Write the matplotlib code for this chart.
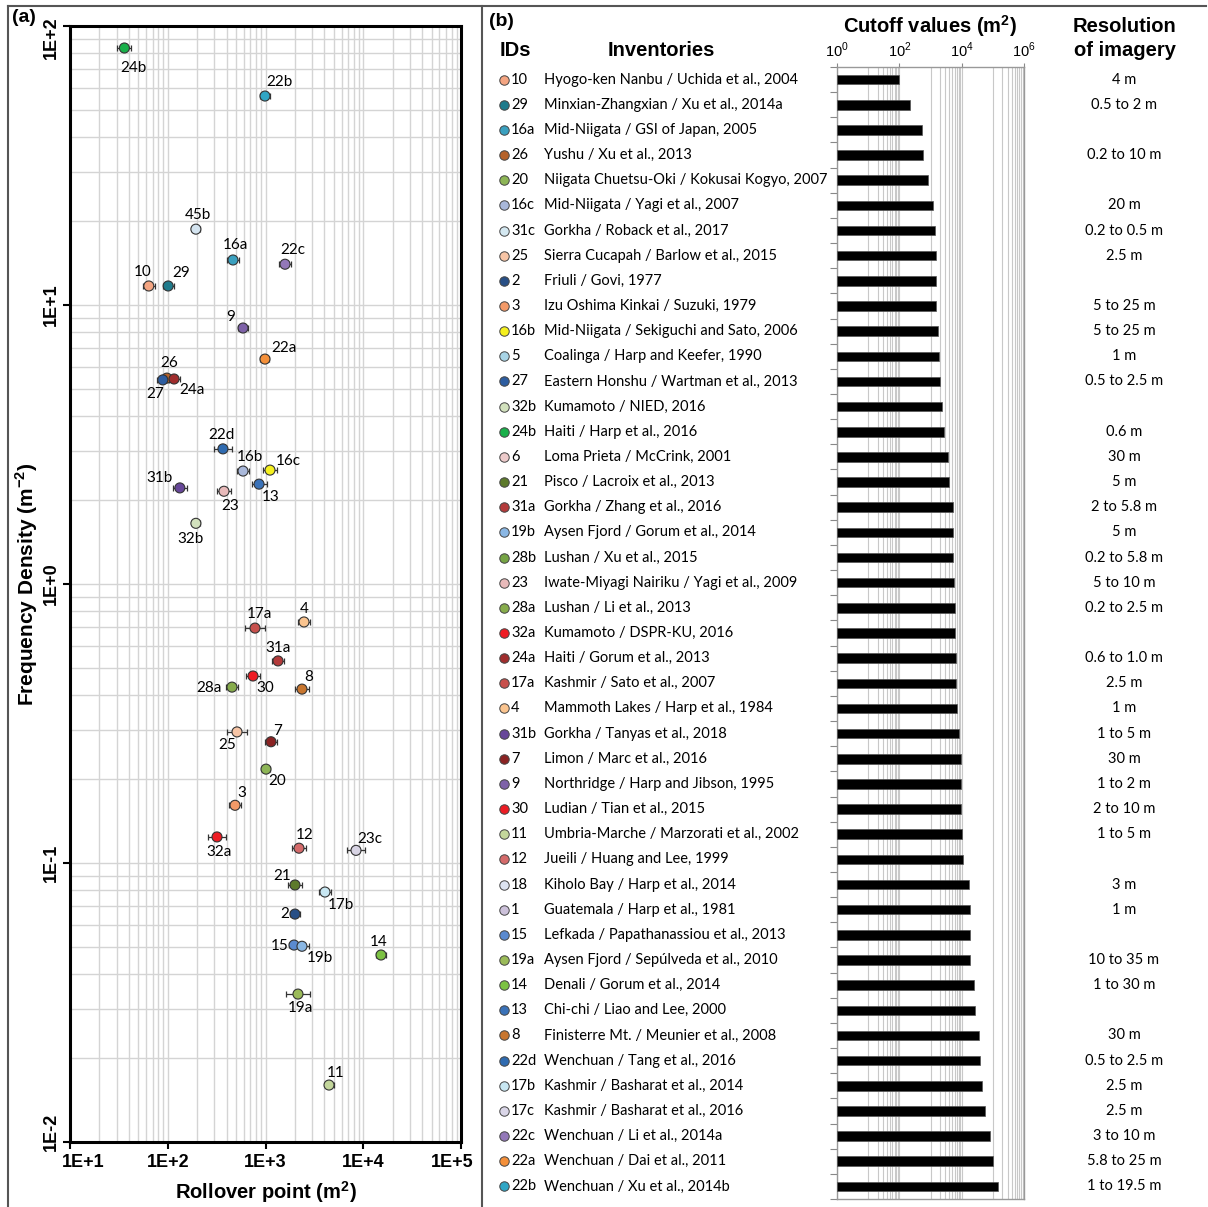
import numpy as np
import matplotlib
matplotlib.use("Agg")
import matplotlib.pyplot as plt
from matplotlib.lines import Line2D
from matplotlib.ticker import FixedLocator, FuncFormatter, NullFormatter
from matplotlib.transforms import blended_transform_factory

plt.rcParams['mathtext.fontset'] = 'custom'
plt.rcParams['mathtext.rm'] = 'Liberation Sans'
plt.rcParams['mathtext.bf'] = 'Liberation Sans:bold'

# ---------------- panel (a) data: rollover point vs frequency density
roll_ids = ['24b', '22b', '45b', '16a', '22c', '10', '29', '9', '22a', '26', '27', '24a',
            '22d', '16b', '16c', '13', '31b', '23', '32b', '17a', '4', '31a', '30', '28a',
            '8', '25', '7', '20', '3', '32a', '12', '23c', '21', '17b', '2', '15', '19b',
            '14', '19a', '11']
roll_x = [36, 988, 194, 465, 1584, 64, 101, 589, 988, 98, 89, 116,
          367, 589, 1112, 859, 133, 376, 194, 781, 2477, 1343, 745, 454,
          2362, 511, 1138, 1012, 488, 319, 2201, 8430, 2003, 4060, 2003, 1958, 2362,
          15200, 2149, 4464]
roll_y = [83.4, 56.1, 18.7, 14.5, 14.0, 11.7, 11.7, 8.27, 6.40, 5.47, 5.39, 5.43,
          3.05, 2.54, 2.56, 2.28, 2.21, 2.15, 1.65, 0.695, 0.731, 0.530, 0.468, 0.427,
          0.420, 0.295, 0.272, 0.217, 0.161, 0.124, 0.113, 0.111, 0.0834, 0.0787, 0.0656,
          0.0508, 0.0503, 0.0468, 0.0339, 0.016]
# half width of error bar, in decades
roll_err = [0.072, 0.055, 0.04, 0.063, 0.063, 0.06, 0.055, 0.053, 0.046, 0.06, 0.06, 0.06,
            0.09, 0.058, 0.07, 0.077, 0.068, 0.072, 0.04, 0.1, 0.063, 0.063, 0.068, 0.065,
            0.07, 0.105, 0.06, 0.04, 0.065, 0.092, 0.068, 0.097, 0.07, 0.066, 0.05, 0.05,
            0.07, 0.05, 0.125, 0.046]
roll_colors = ['#19B04A', '#30A6C5', '#D4E4F0', '#3AA0BF', '#9378B8', '#F4A582', '#1F7B8C',
               '#7E62A8', '#F4903A', '#B5622A', '#2D5DA0', '#A02D2D', '#2F6BB0', '#A9B8DA',
               '#F5F01E', '#3A72B8', '#674799', '#E8BABA', '#D2E1BD', '#C7504C', '#FAC48F',
               '#B33A3A', '#EE1C24', '#87AC4C', '#C8762F', '#F7C5A6', '#8A2222', '#8DB556',
               '#F39A68', '#EE1C24', '#D46A6A', '#D8D4E4', '#5D7A2B', '#C8E7F2', '#284F86',
               '#5A8AD0', '#8AB7E4', '#7CC243', '#9BBB59', '#C3D69B']
# label offsets from the point (pixels, right / down)
label_off = [(9, 20), (14, -14), (2, -14), (2, -15), (8, -14), (-6, -14), (13, -13),
             (-12, -11), (19, -11), (2, -15), (-8, 14), (18, 11), (-1, -14), (7, -14),
             (18, -9), (12, 13), (-20, -10), (6, 15), (-5, 16), (4, -14), (0, -13),
             (0, -13), (12, 12), (-23, 1), (7, -12), (-10, 13), (7, -11), (11, 12),
             (7, -12), (2, 15), (6, -13), (14, -11), (-13, -9), (16, 13), (-10, 0),
             (-14, 1), (18, 12), (-2, -13), (2, 14), (7, -12)]

# ---------------- panel (b) data: inventories table
inv_ids = ['10', '29', '16a', '26', '20', '16c', '31c', '25', '2', '3', '16b', '5', '27',
           '32b', '24b', '6', '21', '31a', '19b', '28b', '23', '28a', '32a', '24a', '17a',
           '4', '31b', '7', '9', '30', '11', '12', '18', '1', '15', '19a', '14', '13', '8',
           '22d', '17b', '17c', '22c', '22a', '22b']
inv_names = ['Hyogo-ken Nanbu / Uchida et al., 2004', 'Minxian-Zhangxian / Xu et al., 2014a',
             'Mid-Niigata / GSI of Japan, 2005', 'Yushu / Xu et al., 2013',
             'Niigata Chuetsu-Oki / Kokusai Kogyo, 2007', 'Mid-Niigata / Yagi et al., 2007',
             'Gorkha / Roback et al., 2017', 'Sierra Cucapah / Barlow et al., 2015',
             'Friuli / Govi, 1977', 'Izu Oshima Kinkai / Suzuki, 1979',
             'Mid-Niigata / Sekiguchi and Sato, 2006', 'Coalinga / Harp and Keefer, 1990',
             'Eastern Honshu / Wartman et al., 2013', 'Kumamoto / NIED, 2016',
             'Haiti / Harp et al., 2016', 'Loma Prieta / McCrink, 2001',
             'Pisco / Lacroix et al., 2013', 'Gorkha / Zhang et al., 2016',
             'Aysen Fjord / Gorum et al., 2014', 'Lushan / Xu et al., 2015',
             'Iwate-Miyagi Nairiku / Yagi et al., 2009', 'Lushan / Li et al., 2013',
             'Kumamoto / DSPR-KU, 2016', 'Haiti / Gorum et al., 2013',
             'Kashmir / Sato et al., 2007', 'Mammoth Lakes / Harp et al., 1984',
             'Gorkha / Tanyas et al., 2018', 'Limon / Marc et al., 2016',
             'Northridge / Harp and Jibson, 1995', 'Ludian / Tian et al., 2015',
             'Umbria-Marche / Marzorati et al., 2002', 'Jueili / Huang and Lee, 1999',
             'Kiholo Bay / Harp et al., 2014', 'Guatemala / Harp et al., 1981',
             'Lefkada / Papathanassiou et al., 2013', 'Aysen Fjord / Sepúlveda et al., 2010',
             'Denali / Gorum et al., 2014', 'Chi-chi / Liao and Lee, 2000',
             'Finisterre Mt. / Meunier et al., 2008', 'Wenchuan / Tang et al., 2016',
             'Kashmir / Basharat et al., 2014', 'Kashmir / Basharat et al., 2016',
             'Wenchuan / Li et al., 2014a', 'Wenchuan / Dai et al., 2011',
             'Wenchuan / Xu et al., 2014b']
inv_colors = ['#F4A582', '#1F7B8C', '#3AA0BF', '#B5622A', '#8DB556', '#A9B8DA', '#D4E8F1',
              '#F7C5A6', '#284F86', '#F39A68', '#F5F01E', '#A8D4E6', '#2D5DA0', '#D2E1BD',
              '#19B04A', '#ECCACA', '#5D7A2B', '#B33A3A', '#8AB7E4', '#76A445', '#E8BABA',
              '#87AC4C', '#EE1C24', '#A02D2D', '#C7504C', '#FAC48F', '#674799', '#8A2222',
              '#7E62A8', '#EC1C24', '#C3D69B', '#D46A6A', '#DDE4F1', '#CCC1DA', '#5A8AD0',
              '#9BBB59', '#7CC243', '#3A72B8', '#C8762F', '#2F6BB0', '#C8E7F2', '#DAD6E8',
              '#9378B8', '#F4903A', '#30A6C5']
cutoff = [100, 225, 520, 590, 830, 1170, 1350, 1490, 1490, 1510, 1690, 1860, 1960,
          2390, 2700, 3700, 4070, 5250, 5370, 5370, 5750, 5890, 6310, 6460, 6650, 6950,
          8510, 9370, 9370, 9500, 10350, 10900, 17300, 19100, 19100, 19100, 24400, 26200,
          35300, 39800, 43900, 57500, 79000, 98600, 142000]
resolution = ['4 m', '0.5 to 2 m', '', '0.2 to 10 m', '', '20 m', '0.2 to 0.5 m', '2.5 m',
              '', '5 to 25 m', '5 to 25 m', '1 m', '0.5 to 2.5 m', '', '0.6 m', '30 m',
              '5 m', '2 to 5.8 m', '5 m', '0.2 to 5.8 m', '5 to 10 m', '0.2 to 2.5 m', '',
              '0.6 to 1.0 m', '2.5 m', '1 m', '1 to 5 m', '30 m', '1 to 2 m', '2 to 10 m',
              '1 to 5 m', '', '3 m', '1 m', '', '10 to 35 m', '1 to 30 m', '', '30 m',
              '0.5 to 2.5 m', '2.5 m', '2.5 m', '3 to 10 m', '5.8 to 25 m', '1 to 19.5 m']

W, H = 1208, 1207


def fx(px):
    return px / W


def fy(py):
    return 1 - py / H


BOLD = 'Liberation Sans'
REG = 'Lato'

fig = plt.figure(figsize=(W / 100, H / 100), dpi=100)

# ---------------- panel (a)
ax = fig.add_axes([fx(70), fy(1142), fx(461) - fx(70), fy(26) - fy(1142)])
ax.set_xscale('log')
ax.set_yscale('log')
ax.set_xlim(10, 1e5)
ax.set_ylim(1e-2, 1e2)
ax.grid(True, which='both', color='#d4d4d4', lw=1.0)
ax.set_axisbelow(True)
for s in ax.spines.values():
    s.set_linewidth(2.2)
ax.tick_params(which='major', length=5, width=1.5, direction='out')
ax.tick_params(which='minor', length=0)

xt = [1e1, 1e2, 1e3, 1e4, 1e5]
yt = [1e-2, 1e-1, 1e0, 1e1, 1e2]
ax.xaxis.set_major_locator(FixedLocator(xt))
ax.yaxis.set_major_locator(FixedLocator(yt))


def sci(v):
    return "1E%+d" % int(round(np.log10(v)))


# end labels are drawn separately, shifted inwards as in the original
ax.xaxis.set_major_formatter(FuncFormatter(lambda v, _: '' if v in (xt[0], xt[-1]) else sci(v)))
ax.yaxis.set_major_formatter(FuncFormatter(lambda v, _: '' if v in (yt[0], yt[-1]) else sci(v)))
ax.tick_params(axis='x', pad=3.5)
ax.tick_params(axis='y', pad=2)
for lab in ax.get_xticklabels():
    lab.set_fontfamily(BOLD)
    lab.set_fontweight('bold')
    lab.set_fontsize(13)
for lab in ax.get_yticklabels():
    lab.set_fontfamily(BOLD)
    lab.set_fontweight('bold')
    lab.set_fontsize(13)
    lab.set_rotation(90)
    lab.set_va('center')

tick_kw = dict(textcoords='offset points', fontfamily=BOLD, fontweight='bold', fontsize=13,
               annotation_clip=False)
ax.annotate(sci(xt[0]), (xt[0], 0), xycoords=('data', 'axes fraction'), xytext=(9.4, -8.5),
            ha='center', va='top', **tick_kw)
ax.annotate(sci(xt[-1]), (xt[-1], 0), xycoords=('data', 'axes fraction'), xytext=(-6.5, -8.5),
            ha='center', va='top', **tick_kw)
ax.annotate(sci(yt[0]), (0, yt[0]), xycoords=('axes fraction', 'data'), xytext=(-7, 7.2),
            ha='right', va='center', rotation=90, **tick_kw)
ax.annotate(sci(yt[-1]), (0, yt[-1]), xycoords=('axes fraction', 'data'), xytext=(-7, -8.6),
            ha='right', va='center', rotation=90, **tick_kw)

ax.set_xlabel(r"Rollover point (m$^{\mathbf{2}}$)", fontfamily=BOLD, fontweight='bold',
              fontsize=14.5, labelpad=6)
ax.set_ylabel(r"Frequency Density (m$^{\mathbf{-2}}$)", fontfamily=BOLD, fontweight='bold',
              fontsize=15, labelpad=2)

xs = np.array(roll_x, dtype=float)
ys = np.array(roll_y, dtype=float)
d = np.array(roll_err)
xerr = [xs - xs / 10 ** d, xs * 10 ** d - xs]
ax.errorbar(xs, ys, xerr=xerr, fmt='none', ecolor='#333333', elinewidth=0.9,
            capsize=2.5, capthick=0.9, zorder=3)
ax.scatter(xs, ys, s=52, c=roll_colors, edgecolors='#333333', linewidths=0.8, zorder=4)
for i, lab in enumerate(roll_ids):
    ox, oy = label_off[i]
    ax.annotate(lab, (xs[i], ys[i]), xytext=(ox * 0.72, -oy * 0.72),
                textcoords='offset points', ha='center', va='center',
                fontfamily=REG, fontsize=11, zorder=5)

fig.text(fx(12), fy(18), "(a)", fontfamily=BOLD, fontweight='bold', fontsize=14,
         ha='left', va='center')

# ---------------- panel (b)
axb = fig.add_axes([fx(837), fy(1199), fx(1024) - fx(837), fy(67) - fy(1199)])
n = len(inv_ids)
rows = np.arange(n)
axb.set_xscale('log')
axb.set_xlim(1, 1e6)
axb.set_ylim(n - 0.5, -0.5)
axb.barh(rows, np.array(cutoff) - 1, left=1, height=0.38, color='black',
         edgecolor='#555555', linewidth=0.5, zorder=3)
axb.xaxis.set_major_locator(FixedLocator([1, 1e2, 1e4, 1e6]))
axb.xaxis.set_minor_locator(FixedLocator([10 * m * 100 ** k for k in range(3)
                                          for m in range(1, 10)]))
axb.xaxis.set_major_formatter(FuncFormatter(
    lambda v, _: r"$10^{%d}$" % int(round(np.log10(v)))))
axb.xaxis.set_minor_formatter(NullFormatter())
axb.xaxis.tick_top()
axb.tick_params(axis='x', which='major', length=3, color='#888888', labelsize=10.5, pad=2)
axb.tick_params(axis='x', which='minor', length=0)
axb.grid(True, which='both', axis='x', color='#c8c8c8', lw=0.8)
axb.set_axisbelow(True)
axb.set_yticks(np.arange(-0.5, n, 1))
axb.set_yticklabels([])
axb.tick_params(axis='y', length=5, color='#888888', width=0.8)
for s in axb.spines.values():
    s.set_color('#999999')
    s.set_linewidth(1.0)

trans = blended_transform_factory(fig.transFigure, axb.transData)
for i in range(n):
    axb.plot([fx(504)], [i], marker='o', ms=6.8, color=inv_colors[i],
             markeredgecolor='#444444', markeredgewidth=0.7, transform=trans,
             clip_on=False, zorder=5)
    axb.text(fx(511), i, inv_ids[i], transform=trans, ha='left', va='center',
             fontfamily=REG, fontsize=10.5)
    axb.text(fx(544), i, inv_names[i], transform=trans, ha='left', va='center',
             fontfamily=REG, fontsize=10.5)
    if resolution[i]:
        axb.text(fx(1124), i, resolution[i], transform=trans, ha='center', va='center',
                 fontfamily=REG, fontsize=10.5)

fig.text(fx(489), fy(22), "(b)", fontfamily=BOLD, fontweight='bold', fontsize=14,
         ha='left', va='center')
fig.text(fx(500), fy(51), "IDs", fontfamily=BOLD, fontweight='bold', fontsize=14.5,
         ha='left', va='center')
fig.text(fx(661), fy(51), "Inventories", fontfamily=BOLD, fontweight='bold', fontsize=14.5,
         ha='center', va='center')
fig.text(fx(930), fy(26), r"Cutoff values (m$^{\mathbf{2}}$)", fontfamily=BOLD,
         fontweight='bold', fontsize=14.5, ha='center', va='center')
fig.text(fx(1125), fy(26), "Resolution", fontfamily=BOLD, fontweight='bold', fontsize=14.5,
         ha='center', va='center')
fig.text(fx(1125), fy(51), "of imagery", fontfamily=BOLD, fontweight='bold', fontsize=14.5,
         ha='center', va='center')

# frame lines
for (x0, y0, x1, y1) in [(8, 6, 1206, 6), (8, 6, 8, 1207), (482, 6, 482, 1207)]:
    fig.add_artist(Line2D([fx(x0), fx(x1)], [fy(y0), fy(y1)], color='#555555', lw=1.5,
                          transform=fig.transFigure))

fig.savefig("out.png", dpi=100)
